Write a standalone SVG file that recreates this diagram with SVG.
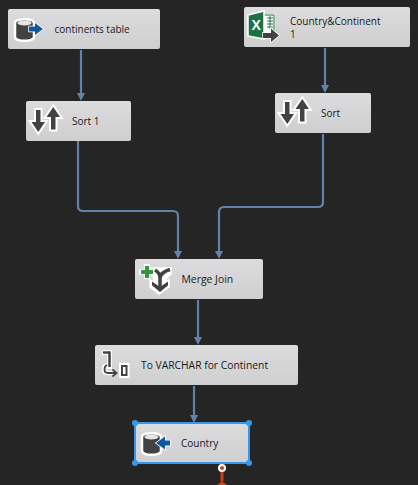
<svg xmlns="http://www.w3.org/2000/svg" width="418" height="485" viewBox="0 0 418 485">
<style>
.box{fill:url(#g);}
.t{font-family:"Open Sans","Noto Sans","Liberation Sans",sans-serif;font-size:10px;fill:#1a1a1a;}
.c{fill:none;stroke:#6282ab;stroke-width:2.200;}
.h{fill:#6282ab;}
.df{fill:#424242;}
.wf{fill:#fff;}
.b{fill:#0f5a9e;}
.sel{fill:#3399ee;}
.halo{fill:#424242;stroke:#fff;stroke-width:4;paint-order:stroke;stroke-linejoin:miter;}
</style>
<defs>
<linearGradient id="g" x1="0" y1="0" x2="0" y2="1"><stop offset="0" stop-color="#dcdcde"/><stop offset="1" stop-color="#cfcfd0"/></linearGradient>
<g id="sort-icon">
<path class="halo" d="M10 9 H14.500 V21 H19 L12.300 31 L5.500 21 H10 Z"/>
<path class="halo" d="M27.300 6 L34 16 H29.500 V28.500 H25 V16 H20.500 Z"/>
</g>
<g id="cyl">
<path d="M2 5 C2 0 21 0 21 5 V19 C21 24 2 24 2 19 Z" class="df" stroke="#fff" stroke-width="2.500"/>
<ellipse cx="11.500" cy="5" rx="7" ry="2.600" fill="#e6e6e6"/>
</g>
</defs>
<rect width="418" height="485" fill="#252525"/>
<g id="connectors">
<path class="c" d="M81 50 V95"/><path class="h" d="M77 93 H85 L81 101 Z"/>
<path class="c" d="M325 48 V87"/><path class="h" d="M321 85 H329 L325 93 Z"/>
<path class="c" d="M78 141 V206 Q78 211 83 211 H173 Q178 211 178 216 V253"/><path class="h" d="M174 251 H182 L178 259 Z"/>
<path class="c" d="M323 134 V202 Q323 207 318 207 H224 Q219 207 219 212 V253"/><path class="h" d="M215 251 H223 L219 259 Z"/>
<path class="c" d="M198 300 V339"/><path class="h" d="M194 337 H202 L198 345 Z"/>
<path class="c" d="M194 386 V417"/><path class="h" d="M190 415 H198 L194 423 Z"/>
<path d="M222 468 V481" fill="none" stroke="#c8431a" stroke-width="3"/>
<path d="M217 485 L222 481 L227 485 Z" fill="#c8431a"/>
<circle cx="222" cy="468" r="3" fill="#c8431a" stroke="#fff" stroke-width="2"/>
</g>
<g id="continents-table">
<rect class="box" x="8" y="9" width="152" height="40" rx="2"/>
<use href="#cyl" x="13" y="18"/>
<path d="M29 26.500 H35 V23 L43 29 L35 35 V31.500 H29 Z" class="b" stroke="#fff" stroke-width="1.500" paint-order="stroke"/>
<text class="t" x="54.500" y="33">continents table</text>
</g>
<g id="sort-1">
<rect class="box" x="26" y="101" width="105" height="40" rx="2"/>
<use href="#sort-icon" x="26" y="101"/>
<text class="t" x="72" y="125">Sort 1</text>
</g>
<g id="country-continent">
<rect class="box" x="244" y="7" width="166" height="40" rx="2"/>
<path d="M260 14 H275 V36 H260 Z" fill="#fff"/>
<path d="M263 15 H274 V34 H263 Z" fill="#fff" stroke="#1e7145" stroke-width="1"/>
<path d="M267 18 H273 M267 21 H273 M267 24 H273 M267 27 H273 M270 16 V29" stroke="#1e7145" stroke-width="1" fill="none"/>
<path d="M248 15 L264 11 V39 L248 36 Z" fill="#1e7145" stroke="#fff" stroke-width="1.500"/>
<text x="251.500" y="30" font-family="Liberation Sans,sans-serif" font-size="14" font-weight="700" fill="#fff">X</text>
<path d="M263 33 H271 V28.500 L279 35.500 L271 42 V38 H263 Z" fill="#424242" stroke="#fff" stroke-width="1.500" paint-order="stroke"/>
<text class="t" x="290" y="25">Country&amp;Continent</text>
<text class="t" x="290" y="38">1</text>
</g>
<g id="sort">
<rect class="box" x="275" y="93" width="96" height="40" rx="2"/>
<use href="#sort-icon" x="275" y="93"/>
<text class="t" x="321" y="117">Sort</text>
</g>
<g id="merge-join">
<rect class="box" x="135" y="259" width="128" height="40" rx="2"/>
<path d="M151 268 H171 V274 L166 279 V282 L169 280 V287 L159 294 L150 287 V280 L154 282 V278 L151 274 Z" class="wf" stroke="#fff" stroke-width="1.500"/>
<path d="M160 289 V278 Q160 273 155 270 M160 278 Q161 272 170 269.500" fill="none" stroke="#424242" stroke-width="3.500"/>
<path d="M152 281.500 L160 287 L168 281.500 V285.500 L160 292 L152 285.500 Z" fill="#424242"/>
<path d="M144 264 H150 V269 H154 V275 H150 V279 H144 V275 H139 V269 H144 Z" fill="#fff"/>
<path d="M145 266 H149 V270 H153 V274 H149 V278 H145 V274 H141 V270 H145 Z" fill="#2f9a3a"/>
<text class="t" x="181.500" y="283" style="font-size:10.400px">Merge Join</text>
</g>
<g id="to-varchar">
<rect class="box" x="95" y="345" width="203" height="40" rx="2"/>
<path d="M102 350 H112 V369 H107 V355 H102 Z" fill="#fff"/>
<path d="M103 352.500 H109.500 V367" fill="none" stroke="#424242" stroke-width="2.500"/>
<path d="M107 365 Q104 366 104 369.500 Q104 373 108 373 H116" fill="none" stroke="#fff" stroke-width="4.500"/>
<path d="M107 365 Q104.500 366 104.500 369.500 Q104.500 373 108 373 H116 M112.500 369.500 L116.500 373 L112.500 376.500" fill="none" stroke="#424242" stroke-width="1.800"/>
<rect x="119" y="363" width="10.500" height="15" fill="#fff"/>
<rect x="122" y="366" width="4.500" height="9" fill="none" stroke="#424242" stroke-width="2"/>
<text class="t" x="141" y="369" style="font-size:10.300px">To VARCHAR for Continent</text>
</g>
<g id="country">
<rect class="box" x="135" y="423" width="114" height="40" rx="3" stroke="#3399ee" stroke-width="2"/>
<use href="#cyl" x="140" y="432"/>
<path d="M170 440.500 H165 V436.500 L156 443 L165 449.500 V445.500 H170 Z" class="b" stroke="#fff" stroke-width="1.500" paint-order="stroke"/>
<text class="t" x="181" y="447">Country</text>
<circle class="sel" cx="135" cy="423" r="3"/><circle class="sel" cx="249" cy="423" r="3"/>
<circle class="sel" cx="135" cy="463" r="3"/><circle class="sel" cx="249" cy="463" r="3"/>
</g>
</svg>
